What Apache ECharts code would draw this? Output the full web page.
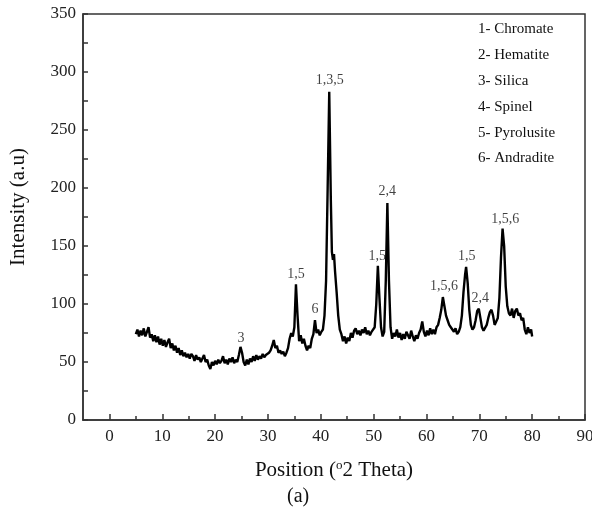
<!DOCTYPE html>
<html>
<head>
<meta charset="utf-8">
<script src="https://cdn.jsdelivr.net/npm/echarts@6/dist/echarts.min.js"></script>
<style>html,body{margin:0;padding:0;background:#fff}#c{width:592px;height:513px}</style>
</head>
<body>
<div id="c"></div>
<script>
const position = [5.0,5.3,5.6,5.9,6.2,6.5,6.8,7.1,7.4,7.7,8.0,8.3,8.6,8.9,9.2,9.5,9.8,10.1,10.4,10.7,11.0,11.3,11.6,11.9,12.2,12.5,12.8,13.1,13.4,13.7,14.0,14.3,14.6,14.9,15.2,15.5,15.8,16.1,16.4,16.7,17.0,17.3,17.6,17.9,18.2,18.5,18.8,19.1,19.4,19.7,20.0,20.3,20.6,20.9,21.2,21.5,21.8,22.1,22.4,22.7,23.0,23.3,23.6,23.9,24.2,24.5,24.8,25.1,25.4,25.7,26.0,26.3,26.6,26.9,27.2,27.5,27.8,28.1,28.4,28.7,29.0,29.3,29.6,29.9,30.2,30.5,30.8,31.1,31.4,31.7,32.0,32.3,32.6,32.9,33.2,33.5,33.8,34.1,34.4,34.7,35.0,35.3,35.6,35.9,36.2,36.5,36.8,37.1,37.4,37.7,38.0,38.3,38.6,38.9,39.2,39.5,39.8,40.1,40.4,40.7,41.0,41.3,41.6,41.9,42.1,42.3,42.5,42.7,43.0,43.3,43.6,43.9,44.2,44.5,44.8,45.1,45.4,45.7,46.0,46.3,46.6,46.9,47.2,47.5,47.8,48.1,48.4,48.7,49.0,49.3,49.6,49.9,50.2,50.5,50.8,51.1,51.4,51.7,52.0,52.3,52.6,52.9,53.2,53.5,53.8,54.1,54.4,54.7,55.0,55.3,55.6,55.9,56.2,56.5,56.8,57.1,57.4,57.7,58.0,58.3,58.6,58.9,59.2,59.5,59.8,60.1,60.4,60.7,61.0,61.3,61.6,61.9,62.2,62.5,62.8,63.1,63.4,63.7,64.0,64.3,64.6,64.9,65.2,65.5,65.8,66.1,66.4,66.7,67.0,67.3,67.5,67.8,68.1,68.4,68.7,69.0,69.3,69.6,69.9,70.2,70.5,70.8,71.1,71.4,71.7,72.0,72.3,72.6,72.9,73.2,73.5,73.8,74.1,74.4,74.7,75.0,75.3,75.6,75.9,76.2,76.5,76.8,77.1,77.4,77.7,78.0,78.3,78.6,78.9,79.2,79.5,79.8,80.0];
const intensity = [74,78,72,77,73,79,72,76,80,71,74,68,73,67,72,65,70,64,69,63,67,70,62,66,60,64,58,62,56,60,55,58,54,57,53,57,55,51,56,52,54,50,53,56,50,52,47,44,50,47,51,48,52,49,51,55,49,52,48,53,50,54,49,52,50,56,63,58,50,47,52,48,53,50,55,51,56,52,55,53,57,54,56,55,58,60,64,69,62,64,58,60,57,59,55,58,62,70,75,72,80,117,90,68,73,66,70,64,60,64,62,70,74,86,75,78,73,76,78,90,120,200,283,190,145,138,143,128,110,90,78,74,68,72,66,71,68,75,71,77,79,74,77,73,78,75,80,74,77,73,76,75,80,100,133,105,80,72,76,120,187,120,80,70,75,72,78,71,75,69,74,70,76,73,70,77,72,68,73,70,75,78,85,76,72,77,73,79,74,78,74,80,82,88,95,106,98,90,86,82,80,78,76,79,74,76,80,90,110,125,132,118,95,82,78,80,86,94,96,88,80,77,78,82,88,93,95,90,82,83,88,105,140,165,150,115,98,92,90,96,88,94,96,90,92,86,88,78,74,80,75,78,72];

// peak annotations
const peakLabelText = ['3','1,5','6','1,3,5','1,5','2,4','1,5,6','1,5','2,4','1,5,6'];
const peakLabelX =    [24.9, 35.3, 38.9, 41.7, 50.7, 52.6, 63.3, 67.6, 70.2, 74.9];
const peakLabelY =    [70,   126,  95,   293,  141,  197,  115,  141,  105,  173];

// phase legend
const phases = ['1- Chromate','2- Hematite','3- Silica','4- Spinel','5- Pyrolusite','6- Andradite'];

// axis ticks
const xMajorTicks = [0,10,20,30,40,50,60,70,80,90];
const xMinorTicks = [5,15,25,35,45,55,65,75,85];

const serif = '"Liberation Serif","Times New Roman",serif';
const chart = echarts.init(document.getElementById('c'), null, {renderer:'canvas'});

const lineData = position.map((p,i)=>[p,intensity[i]]);
const labelData = peakLabelX.map((x,i)=>({value:[x,peakLabelY[i]], name:peakLabelText[i]}));

const graphics = phases.map((t,i)=>({
  type:'text', left:478, top:22+i*25.8,
  style:{text:t, font:'15px '+serif, fill:'#111'}
}));
graphics.push({type:'text', left:287, top:487, style:{text:'(a)', font:'20px '+serif, fill:'#111'}});

chart.setOption({
  animation:false,
  backgroundColor:'#fff',
  grid:{left:83, top:14, right:7, bottom:93, show:true, borderColor:'#333', borderWidth:1.5, backgroundColor:'transparent', containLabel:false, outerBoundsMode:'none'},
  xAxis:[{
    type:'value', min:-5, max:90,
    name:'Position ({sup|o}2 Theta)',
    nameLocation:'middle', nameGap:39,
    nameTextStyle:{fontFamily:serif, fontSize:21, color:'#111',
      rich:{sup:{fontFamily:serif, fontSize:13, color:'#111', verticalAlign:'top', padding:[0,0,10,0]}}},
    axisLine:{show:true, onZero:false, lineStyle:{color:'#333', width:1.5}},
    axisTick:{show:true, inside:true, length:6, lineStyle:{color:'#333', width:1.5}, customValues:xMajorTicks},
    axisLabel:{show:true, customValues:xMajorTicks, fontFamily:serif, fontSize:17, color:'#222', margin:8},
    splitLine:{show:false}
  },{
    type:'value', min:-5, max:90, position:'bottom',
    axisLine:{show:false, onZero:false},
    axisTick:{show:true, inside:true, length:4, lineStyle:{color:'#333', width:1.5}, customValues:xMinorTicks},
    axisLabel:{show:false},
    splitLine:{show:false}
  }],
  yAxis:{
    type:'value', min:0, max:350, interval:50,
    name:'Intensity (a.u)', nameLocation:'middle', nameGap:54,
    nameTextStyle:{fontFamily:serif, fontSize:21, color:'#111', padding:[0,0,0,20]},
    axisLine:{show:true, onZero:false, lineStyle:{color:'#333', width:1.5}},
    axisTick:{show:true, inside:true, length:5, lineStyle:{color:'#333', width:1.5}},
    minorTick:{show:true, splitNumber:2, length:5, lineStyle:{color:'#333', width:1.5}},
    axisLabel:{fontFamily:serif, fontSize:17, color:'#222', margin:7},
    splitLine:{show:false}
  },
  graphic:graphics,
  series:[{
    type:'line', data:lineData, showSymbol:false, symbol:'none',
    lineStyle:{color:'#000', width:2.4}, z:3
  },{
    type:'scatter', data:labelData, symbolSize:0, silent:true,
    label:{show:true, position:'inside', formatter:p=>p.name, fontFamily:serif, fontSize:14, color:'#111'}
  }]
});
</script>
</body>
</html>
